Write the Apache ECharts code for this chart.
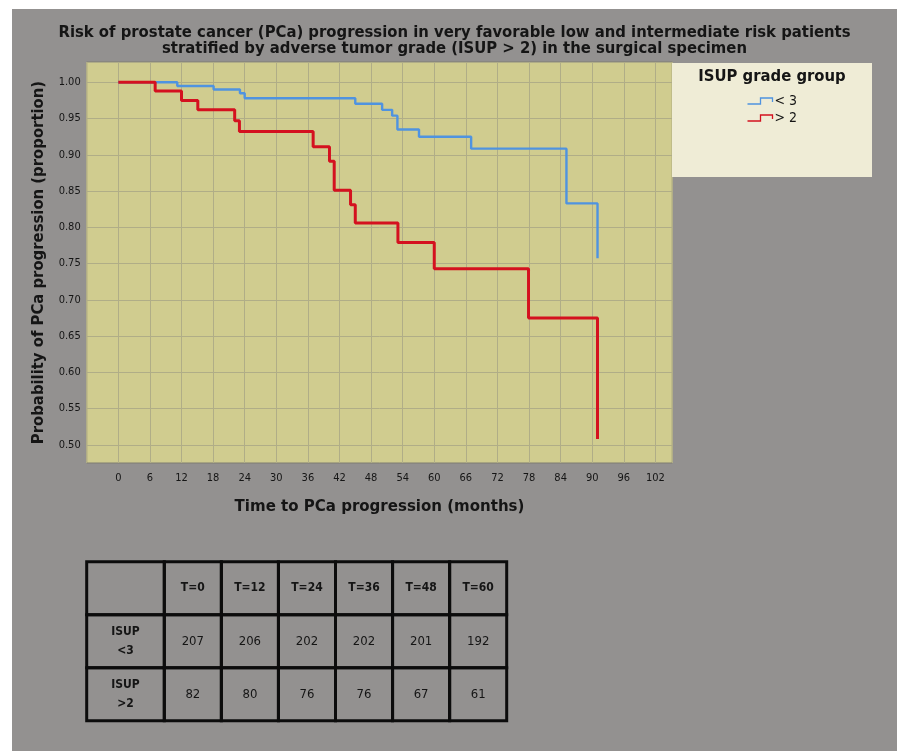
<!DOCTYPE html>
<html>
<head>
<meta charset="utf-8">
<script src="https://cdn.jsdelivr.net/npm/echarts@6/dist/echarts.min.js"></script>
<style>
  html, body { margin: 0; padding: 0; background: #ffffff; width: 897px; height: 751px; overflow: hidden; }
  #chart { position: absolute; left: 12px; top: 9px; width: 885px; height: 742px; }
</style>
</head>
<body>
<div id="chart"></div>
<script>
// Kaplan–Meier estimates: month of each step and progression-free proportion after it
const lowGradeMonths   = [0, 11.2, 18.1, 23.1, 24, 45, 50.1, 52, 53, 57.1, 67, 85.1, 91];
const lowGradeSurvival = [1.0, 0.995, 0.990, 0.985, 0.978, 0.9705, 0.962, 0.954, 0.935, 0.925, 0.9085, 0.833, 0.7575];
const highGradeMonths   = [0, 7, 12, 15.1, 22.1, 23, 37, 40.1, 41, 44.1, 45, 53.1, 60, 77.9, 91];
const highGradeSurvival = [1.0, 0.988, 0.975, 0.962, 0.947, 0.932, 0.911, 0.891, 0.851, 0.831, 0.806, 0.779, 0.743, 0.675, 0.508];
const groupNames = ['< 3', '> 2'];

// Number at risk table
const riskTimes = [0, 12, 24, 36, 48, 60];
const riskRowLabels = ['ISUP\n<3', 'ISUP\n>2'];
const riskLowGrade  = [207, 206, 202, 202, 201, 192];
const riskHighGrade = [82, 80, 76, 76, 67, 61];

const FONT = '"DejaVu Sans Condensed", "DejaVu Sans", sans-serif';
const INK = '#151515';
const BLUE = '#4f93e0';
const RED = '#d4111f';
const GRID_LINE = '#b0ad87';

const pairs = (xs, ys) => xs.map((x, i) => [x, ys[i]]);
const isStep = (v, step) => Math.abs(v / step - Math.round(v / step)) < 1e-6;

// Cells of the at-risk table: header row plus one row per group
const headCells = [{ col: 0, row: 0, text: '', bold: true }]
  .concat(riskRowLabels.map((t, i) => ({ col: 0, row: i + 1, text: t, bold: true })));
const bodyCells = [];
riskTimes.forEach((t, c) => bodyCells.push({ col: c, row: 0, text: 'T=' + t, bold: true }));
riskLowGrade.forEach((v, c) => bodyCells.push({ col: c, row: 1, text: String(v), bold: false }));
riskHighGrade.forEach((v, c) => bodyCells.push({ col: c, row: 2, text: String(v), bold: false }));

function cellRenderer(cells) {
  return function (params, api) {
    const cell = cells[params.dataIndex];
    const c = api.coord([api.value(0), api.value(1)]);
    const s = api.size([1, 1]);
    return {
      type: 'group',
      children: [
        { type: 'rect',
          shape: { x: c[0] - s[0] / 2, y: c[1] - s[1] / 2, width: s[0], height: s[1] },
          style: { fill: 'none', stroke: '#0c0c0c', lineWidth: 3 } },
        { type: 'text', x: c[0], y: c[1],
          style: { text: cell.text, align: 'center', verticalAlign: 'middle',
                   font: (cell.bold ? 'bold 12px ' : '13px ') + FONT,
                   lineHeight: 19, fill: INK } }
      ]
    };
  };
}

const stepIcon = 'path://M0,6 L13,6 L13,0 L25,0 L25,4';

const chart = echarts.init(document.getElementById('chart'));
chart.setOption({
  animation: false,
  backgroundColor: '#939190',
  title: {
    text: 'Risk of prostate cancer (PCa) progression in very favorable low and intermediate risk patients\nstratified by adverse tumor grade (ISUP > 2) in the surgical specimen',
    left: 'center',
    top: 10,
    textStyle: { fontFamily: FONT, fontSize: 16.5, fontWeight: 'bold', color: INK, lineHeight: 16.5 }
  },
  graphic: [
    { type: 'rect', left: 660, top: 54, z: 1, shape: { width: 200, height: 114 }, style: { fill: '#efecd6' } },
    { type: 'text', x: 760, y: 68, z: 2,
      style: { text: 'ISUP grade group', align: 'center', verticalAlign: 'middle',
               font: 'bold 16.5px ' + FONT, fill: INK } }
  ],
  legend: {
    orient: 'vertical',
    left: 728,
    top: 80,
    z: 10,
    itemWidth: 25,
    itemHeight: 6,
    itemGap: 3,
    textStyle: { fontFamily: FONT, fontSize: 14, color: INK, lineHeight: 14, padding: [0, 0, 0, -3] },
    data: [
      { name: groupNames[0], icon: stepIcon, itemStyle: { color: 'none', borderColor: BLUE, borderWidth: 1.3 } },
      { name: groupNames[1], icon: stepIcon, itemStyle: { color: 'none', borderColor: RED, borderWidth: 1.3 } }
    ]
  },
  grid: [
    { left: 74.7, top: 53, width: 585.6, height: 401, show: true,
      backgroundColor: '#d0cc8f', borderColor: '#7f7d70', borderWidth: 1 },
    { left: 74.7, top: 552.7, width: 77.6, height: 159 },
    { left: 152.3, top: 552.7, width: 342.4, height: 159 }
  ],
  xAxis: [
    { gridIndex: 0, type: 'value', min: -6, max: 105.2, interval: 6,
      name: 'Time to PCa progression (months)', nameLocation: 'middle', nameGap: 35,
      nameTextStyle: { fontFamily: FONT, fontSize: 16.7, fontWeight: 'bold', color: INK },
      axisLine: { show: false }, axisTick: { show: false },
      axisLabel: { margin: 10, fontFamily: FONT, fontSize: 11, color: INK,
                   formatter: v => (v >= 0 && v <= 102 && isStep(v, 6)) ? String(Math.round(v)) : '' },
      splitLine: { show: true, lineStyle: { color: GRID_LINE, width: 1 } } },
    { gridIndex: 1, type: 'category', data: [''], show: false },
    { gridIndex: 2, type: 'category', data: riskTimes.map(t => 'T=' + t), show: false }
  ],
  yAxis: [
    { gridIndex: 0, type: 'value', min: 0.475, max: 1.028, interval: 0.025,
      name: 'Probability of PCa progression (proportion)', nameLocation: 'middle', nameGap: 39,
      nameTextStyle: { fontFamily: FONT, fontSize: 16.5, fontWeight: 'bold', color: INK },
      axisLine: { show: false }, axisTick: { show: false },
      axisLabel: { margin: 6, fontFamily: FONT, fontSize: 11, color: INK,
                   formatter: v => (v > 0.499 && v < 1.001 && isStep(v, 0.05)) ? v.toFixed(2) : '' },
      splitLine: { show: true, lineStyle: { color: ['transparent', GRID_LINE], width: 1 } } },
    { gridIndex: 1, type: 'category', data: ['head', 'low', 'high'], inverse: true, show: false },
    { gridIndex: 2, type: 'category', data: ['head', 'low', 'high'], inverse: true, show: false }
  ],
  series: [
    { name: groupNames[0], type: 'line', step: 'end', xAxisIndex: 0, yAxisIndex: 0,
      showSymbol: false, symbol: 'none', color: BLUE,
      lineStyle: { color: BLUE, width: 2.4 }, data: pairs(lowGradeMonths, lowGradeSurvival), z: 3 },
    { name: groupNames[1], type: 'line', step: 'end', xAxisIndex: 0, yAxisIndex: 0,
      showSymbol: false, symbol: 'none', color: RED,
      lineStyle: { color: RED, width: 3 }, data: pairs(highGradeMonths, highGradeSurvival), z: 4 },
    { type: 'custom', xAxisIndex: 1, yAxisIndex: 1, clip: false,
      renderItem: cellRenderer(headCells), data: headCells.map(c => [c.col, c.row]) },
    { type: 'custom', xAxisIndex: 2, yAxisIndex: 2, clip: false,
      renderItem: cellRenderer(bodyCells), data: bodyCells.map(c => [c.col, c.row]) }
  ]
});
</script>
</body>
</html>
